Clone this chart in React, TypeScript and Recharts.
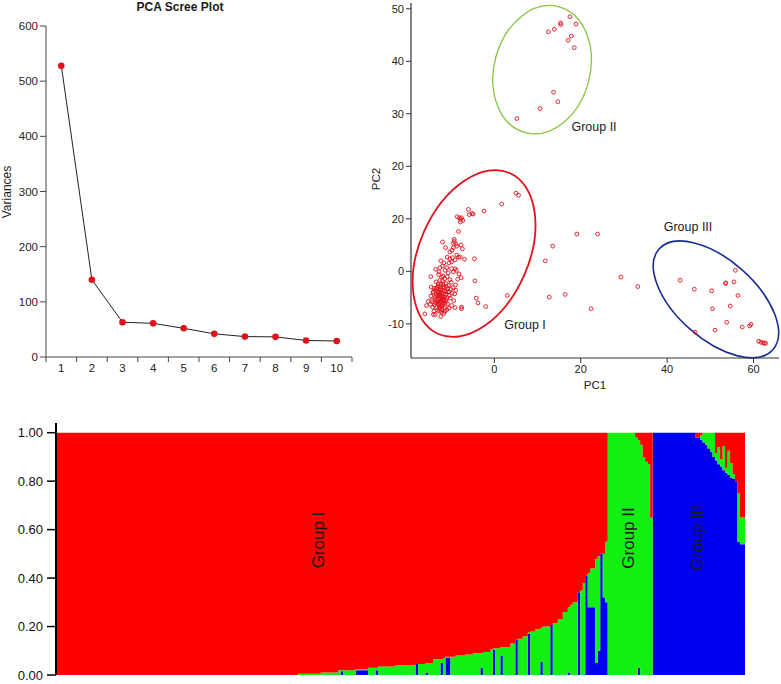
import React from "react";
import {
  Area,
  AreaChart,
  Line,
  LineChart,
  ReferenceArea,
  Scatter,
  ScatterChart,
  XAxis,
  YAxis,
} from "recharts";

const FONT = '"Liberation Sans", Arial, Helvetica, sans-serif';

// ---- scree plot
const screeComponents = [1, 2, 3, 4, 5, 6, 7, 8, 9, 10];
const screeVariances = [528, 140, 63, 61, 52, 42, 37, 36.5, 30, 29];
const screeYTicks = [0, 100, 200, 300, 400, 500, 600];
const screeBandEdges = [0.5, 1.5, 2.5, 3.5, 4.5, 5.5, 6.5, 7.5, 8.5, 9.5, 10.5];

// ---- PCA scatter
const scatterXTicks = [0, 20, 40, 60];
const scatterYTicks = [-10, 0, 10, 20, 30, 40, 50];
const scatterYTickLabels = ["-10", "0", "20", "20", "30", "40", "50"];

const groupIPoints: [number, number][] = [
  [5.0, 14.9], [5.6, 14.5], [1.7, 12.8], [-2.4, 11.5], [-6.0, 11.8], [-5.8, 10.8],
  [-5.2, 11.0], [-4.9, 10.9], [-8.6, 10.4], [-8.1, 10.2], [-7.8, 9.9], [-7.6, 10.2],
  [-7.3, 9.7], [-7.9, 9.4], [-8.3, 7.6], [-12.0, 5.6], [-9.3, 6.1], [-9.3, 5.7],
  [-9.5, 5.3], [-8.9, 5.2], [-8.7, 4.8], [-9.5, 4.5], [-11.3, 4.5], [-7.7, 5.0],
  [-7.4, 4.3], [-10.3, 3.7], [-9.8, 4.0], [-6.9, 2.3], [-4.6, 2.4], [-8.7, 3.1],
  [-8.3, 2.7], [-9.1, 2.2], [-7.9, 2.7], [-10.9, 2.7], [-10.3, 2.4], [-9.7, 2.6],
  [-10.5, 1.6], [-9.9, 1.8], [-12.4, 2.0], [-11.7, 1.6], [-13.6, 0.4], [-12.6, 0.7],
  [-12.0, 1.0], [-12.8, -0.1], [-11.4, 0.2], [-11.0, 0.7], [-10.7, -0.3], [-9.9, 0.5],
  [-9.5, -0.1], [-9.1, 0.5], [-14.7, -1.0], [-7.7, -1.2], [-4.5, -1.8], [3.0, -4.6],
  [-4.2, -5.1], [-3.8, -6.0], [-2.0, -6.7], [-7.6, -6.8], [-9.1, -6.9], [-7.6, -7.1],
  [-16.1, -8.1], [-15.7, -6.5], [-15.3, -5.7], [-14.1, -8.2], [-14.0, -7.6], [-14.3, -6.8],
  [-14.7, -4.7], [-14.5, -5.5], [-14.1, -3.9], [-13.7, -4.9], [-13.4, -3.3], [-13.0, -2.4],
  [-12.6, -1.7], [-12.2, -1.1],
];

const groupICore: [number, number][] = [
  [-14.2, -4.0], [-13.8, -3.6], [-13.5, -4.4], [-13.1, -3.9], [-12.8, -4.7], [-12.5, -3.5],
  [-12.2, -4.1], [-11.9, -4.8], [-11.6, -3.7], [-11.3, -4.4], [-11.0, -5.0], [-10.7, -3.9],
  [-10.4, -4.6], [-10.1, -3.4], [-13.6, -5.3], [-13.2, -5.8], [-12.9, -5.2], [-12.6, -6.0],
  [-12.3, -5.5], [-12.0, -6.3], [-11.7, -5.6], [-11.4, -6.1], [-11.1, -5.4], [-13.9, -6.4],
  [-13.4, -6.9], [-12.7, -7.1], [-12.1, -6.8], [-11.5, -7.0], [-14.4, -5.8], [-13.0, -2.8],
  [-12.4, -2.5], [-11.8, -2.9], [-11.2, -2.3], [-10.6, -2.7], [-10.0, -2.1], [-9.6, -3.1],
  [-9.8, -4.2], [-10.2, -5.1], [-9.4, -5.6], [-10.8, -6.2], [-13.3, -3.1], [-14.0, -3.2],
  [-12.0, -1.8], [-11.5, -1.4], [-10.9, -1.0], [-10.3, -1.6], [-12.7, -7.6], [-12.2, -7.8],
  [-13.1, -7.4], [-11.0, -7.3], [-9.9, -6.5], [-9.2, -4.3], [-8.9, -3.6], [-9.0, -2.6],
  [-12.9, -0.6], [-11.9, -0.9], [-13.5, -2.0], [-14.6, -3.0], [-14.8, -6.3], [-13.7, -8.2],
  [-12.4, -8.6], [-11.4, -7.6], [-10.5, -7.0], [-8.5, -1.5], [-8.2, -0.5], [-8.8, 0.2],
  [-11.7, -8.0], [-13.0, -4.2], [-12.7, -3.9], [-12.4, -4.6], [-12.1, -5.0], [-11.8, -4.3],
  [-12.9, -5.6], [-12.5, -5.0], [-12.2, -5.8], [-11.9, -5.3], [-12.6, -4.3], [-13.3, -4.7],
  [-12.0, -3.6], [-11.5, -4.9], [-11.2, -3.9], [-12.8, -6.4], [-12.3, -6.6], [-13.0, -6.2],
  [-11.8, -6.0], [-12.5, -3.0], [-11.6, -3.2], [-13.4, -5.6], [-12.9, -3.3], [-11.3, -5.7],
  [-12.7, -6.7], [-13.6, -6.0], [-12.1, -7.3], [-11.9, -2.4], [-11.1, -2.9], [-10.8, -3.3],
  [-10.5, -3.9],
];

const groupIIPoints: [number, number][] = [
  [17.5, 48.5], [18.9, 47.1], [15.3, 47.3], [15.4, 47.0], [12.5, 45.6], [13.9, 46.1],
  [17.8, 44.8], [17.1, 44.0], [18.5, 42.6], [13.7, 34.1], [14.7, 32.3], [10.6, 31.0],
  [5.2, 29.1],
];

const groupIIIPoints: [number, number][] = [
  [43.0, -1.7], [46.3, -3.4], [50.3, -3.7], [55.8, 0.2], [53.6, -2.2], [53.5, -2.3],
  [55.5, -2.0], [56.4, -4.6], [54.6, -6.6], [50.5, -7.1], [53.8, -9.7], [46.5, -11.6],
  [51.1, -11.2], [57.4, -10.6], [59.1, -10.4], [59.4, -10.1], [61.2, -13.3], [61.7, -13.5],
  [62.2, -13.6], [62.5, -13.7], [62.8, -13.7],
];

const betweenPoints: [number, number][] = [
  [11.8, 2.0], [13.5, 4.8], [19.1, 7.1], [23.9, 7.1], [12.7, -4.9], [16.4, -4.4],
  [22.4, -7.1], [29.3, -1.1], [33.2, -2.9],
];

const groupEllipses = [
  { cx: -4.7, cy: 3.4, rx: 12.65, ry: 16.76, angle: 23.9, color: "#e3101b", width: 1.8 },
  { cx: 11.05, cy: 38.4, rx: 11.1, ry: 12.4, angle: 15, color: "#86c540", width: 1.3 },
  { cx: 51.3, cy: -5.34, rx: 17.58, ry: 7.52, angle: 41.5, color: "#1a2d8f", width: 1.6 },
];

// ---- structure (admixture) plot, step breakpoints per individual index
const structStart = [
  0, 97, 106, 113, 114, 115, 120, 125, 128, 129, 136, 144, 145, 148, 149, 151, 154, 155,
  156, 158, 160, 164, 167, 170, 171, 174, 175, 176, 178, 179, 182, 184, 185, 187, 189, 190,
  192, 194, 195, 198, 199, 201, 203, 205, 206, 207, 209, 210, 211, 212, 213, 214, 216, 217,
  218, 219, 220, 221, 232, 233, 234, 235, 236, 237, 238, 239, 256, 258, 259, 260, 261, 262,
  263, 264, 265, 266, 267, 268, 269, 270, 271, 272, 273, 274, 276,
];
const structBlue = [
  0, 0, 0, 0, 0.015, 0, 0.02, 0, 0.02, 0, 0, 0.045, 0, 0.01, 0, 0, 0.05, 0,
  0.07, 0, 0, 0, 0, 0.03, 0, 0, 0.105, 0, 0.08, 0, 0, 0.145, 0, 0, 0.17, 0,
  0, 0.055, 0, 0.206, 0, 0, 0, 0.01, 0, 0, 0.34, 0, 0, 0.41, 0.28, 0.28, 0.05, 0.1,
  0.5, 0.32, 0.3, 0, 0, 0.03, 0, 0, 0, 0, 0, 1, 0.98, 0.97, 0.96, 0.95, 0.935, 0.92,
  0.9, 0.885, 0.87, 0.86, 0.845, 0.835, 0.825, 0.815, 0.81, 0.8, 0.55, 0.54, 0.54,
];
const structGreen = [
  0, 0.005, 0.01, 0.02, 0.005, 0.02, 0.005, 0.03, 0.01, 0.035, 0.04, 0, 0.045, 0.04, 0.05, 0.065, 0.015, 0.07,
  0.005, 0.075, 0.08, 0.085, 0.09, 0.06, 0.095, 0.105, 0.005, 0.11, 0.035, 0.115, 0.13, 0, 0.15, 0.16, 0.005, 0.18,
  0.19, 0.14, 0.2, 0, 0.215, 0.23, 0.26, 0.27, 0.29, 0.3, 0, 0.35, 0.38, 0, 0.14, 0.16, 0.43, 0.39,
  0, 0.18, 0.25, 1, 0.98, 0.94, 0.95, 0.9, 0.88, 0.87, 0.65, 0, 0, 0.02, 0.04, 0.05, 0.065, 0.08,
  0.1, 0.03, 0.07, 0.03, 0.1, 0.02, 0.1, 0.06, 0.02, 0, 0.2, 0.11, 0.11,
];
const structRed = [
  1, 0.995, 0.99, 0.98, 0.98, 0.98, 0.975, 0.97, 0.97, 0.965, 0.96, 0.955, 0.955, 0.95, 0.95, 0.935, 0.935, 0.93,
  0.925, 0.925, 0.92, 0.915, 0.91, 0.91, 0.905, 0.895, 0.89, 0.89, 0.885, 0.885, 0.87, 0.855, 0.85, 0.84, 0.825, 0.82,
  0.81, 0.805, 0.8, 0.794, 0.785, 0.77, 0.74, 0.72, 0.71, 0.7, 0.66, 0.65, 0.62, 0.59, 0.58, 0.56, 0.52, 0.51,
  0.5, 0.5, 0.45, 0, 0.02, 0.03, 0.05, 0.1, 0.12, 0.13, 0.35, 0, 0.02, 0.01, 0, 0, 0, 0,
  0, 0.085, 0.06, 0.11, 0.055, 0.145, 0.075, 0.125, 0.17, 0.2, 0.25, 0.35, 0.35,
];
const structYTicks = [0, 0.2, 0.4, 0.6, 0.8, 1];
const structYTickLabels = ["0.00", "0.20", "0.40", "0.60", "0.80", "1.00"];

const screeData = screeComponents.map((pc, i) => ({ pc, variance: screeVariances[i] }));
const scatterData = [
  ...groupIPoints,
  ...groupICore,
  ...groupIIPoints,
  ...groupIIIPoints,
  ...betweenPoints,
].map(([pc1, pc2]) => ({ pc1, pc2 }));
const structData = structStart.map((x, i) => ({
  x,
  blue: structBlue[i],
  green: structGreen[i],
  red: structRed[i],
}));

const SCATTER_X: [number, number] = [-19.3, 65.9];
const SCATTER_Y: [number, number] = [-16.5, 51.1];

function Note({
  x,
  y,
  size,
  rotate = 0,
  bold = false,
  children,
}: {
  x: number;
  y: number;
  size: number;
  rotate?: number;
  bold?: boolean;
  children: React.ReactNode;
}) {
  return (
    <div
      style={{
        position: "absolute",
        left: x,
        top: y,
        transform: `translate(-50%, -50%) rotate(${rotate}deg)`,
        fontSize: size,
        fontWeight: bold ? 700 : 400,
        lineHeight: 1,
        whiteSpace: "nowrap",
        color: "#1a1a1a",
      }}
    >
      {children}
    </div>
  );
}

function ScreeXTick(props: any) {
  const { x, y, payload } = props;
  const v = payload.value;
  if (screeBandEdges.includes(v)) {
    return <line x1={x} x2={x} y1={y - 7} y2={y - 2} stroke="#444" strokeWidth={1} />;
  }
  return (
    <text x={x} y={y} dy="0.71em" textAnchor="middle" fontSize={11.5} fill="#222">
      {v}
    </text>
  );
}

const ellipseShape = (e: (typeof groupEllipses)[number]) => (props: any) => {
  const { x, y, width, height } = props;
  const cx = x + width / 2;
  const cy = y + height / 2;
  return (
    <ellipse
      cx={cx}
      cy={cy}
      rx={Math.abs(width) / 2}
      ry={Math.abs(height) / 2}
      transform={`rotate(${e.angle} ${cx} ${cy})`}
      fill="none"
      stroke={e.color}
      strokeWidth={e.width}
    />
  );
};

export default function App() {
  return (
    <div
      style={{
        position: "relative",
        width: 781,
        height: 684,
        background: "#fff",
        fontFamily: FONT,
        overflow: "hidden",
      }}
    >
      <style>{"body{margin:0;}"}</style>

      {/* scree plot */}
      <div style={{ position: "absolute", left: 0, top: 0 }}>
        <LineChart
          width={360}
          height={380}
          data={screeData}
          margin={{ top: 26, right: 8, bottom: 3, left: 6 }}
        >
          <XAxis
            dataKey="pc"
            type="number"
            domain={[0.5, 10.5]}
            ticks={[...screeBandEdges, ...screeComponents]}
            interval={0}
            tick={<ScreeXTick />}
            tickLine={false}
            tickSize={5}
            tickMargin={2}
            height={20}
            axisLine={{ stroke: "#444", strokeWidth: 1 }}
          />
          <YAxis
            type="number"
            domain={[0, 600]}
            ticks={screeYTicks}
            interval={0}
            width={40}
            tickSize={6}
            tick={{ fontSize: 11.5, fill: "#222" }}
            tickLine={{ stroke: "#444" }}
            axisLine={{ stroke: "#444", strokeWidth: 1 }}
          />
          <Line
            dataKey="variance"
            type="linear"
            stroke="#222"
            strokeWidth={1}
            dot={{ r: 3.3, fill: "#e3101b", stroke: "none" }}
            activeDot={false}
            isAnimationActive={false}
          />
        </LineChart>
      </div>

      {/* PCA scatter */}
      <div style={{ position: "absolute", left: 360, top: 0 }}>
        <ScatterChart width={421} height={380} margin={{ top: 3, right: 2, bottom: 2, left: 6 }}>
          <XAxis
            dataKey="pc1"
            type="number"
            domain={SCATTER_X}
            ticks={scatterXTicks}
            interval={0}
            height={20}
            tickSize={5}
            tick={{ fontSize: 11, fill: "#222" }}
            tickLine={{ stroke: "#333" }}
            axisLine={{ stroke: "#333", strokeWidth: 1.2 }}
          />
          <XAxis
            xAxisId="top"
            orientation="top"
            type="number"
            domain={SCATTER_X}
            height={0}
            tick={false}
            tickLine={false}
            axisLine={{ stroke: "#333", strokeWidth: 1.2 }}
          />
          <YAxis
            dataKey="pc2"
            type="number"
            domain={SCATTER_Y}
            ticks={scatterYTicks}
            interval={0}
            width={45}
            tickSize={5}
            tickFormatter={(v: number) => scatterYTickLabels[scatterYTicks.indexOf(v)]}
            tick={{ fontSize: 11, fill: "#222" }}
            tickLine={{ stroke: "#333" }}
            axisLine={{ stroke: "#333", strokeWidth: 1.2 }}
          />
          <YAxis
            yAxisId="right"
            orientation="right"
            type="number"
            domain={SCATTER_Y}
            width={0}
            tick={false}
            tickLine={false}
            axisLine={{ stroke: "#333", strokeWidth: 1.2 }}
          />
          {groupEllipses.map((e, i) => (
            <ReferenceArea
              key={i}
              x1={e.cx - e.rx}
              x2={e.cx + e.rx}
              y1={e.cy - e.ry}
              y2={e.cy + e.ry}
              ifOverflow="visible"
              shape={ellipseShape(e)}
            />
          ))}
          <Scatter
            data={scatterData}
            isAnimationActive={false}
            shape={(p: any) => (
              <circle cx={p.cx} cy={p.cy} r={1.9} fill="none" stroke="#e3101b" strokeWidth={0.9} />
            )}
          />
        </ScatterChart>
      </div>

      {/* structure plot */}
      <div style={{ position: "absolute", left: 0, top: 400 }}>
        <AreaChart
          width={781}
          height={284}
          data={structData}
          margin={{ top: 23, right: 26, bottom: 9, left: 6 }}
        >
          <XAxis
            dataKey="x"
            type="number"
            domain={[0, 280]}
            height={0}
            tick={false}
            tickLine={false}
            axisLine={{ stroke: "#000", strokeWidth: 2 }}
          />
          <YAxis
            type="number"
            domain={[0, 1.04]}
            ticks={structYTicks}
            interval={0}
            width={50}
            tickSize={9}
            tickMargin={4}
            tickFormatter={(v: number) => structYTickLabels[structYTicks.indexOf(v)]}
            tick={{ fontSize: 13, fill: "#111" }}
            tickLine={{ stroke: "#000", strokeWidth: 1.5 }}
            axisLine={{ stroke: "#000", strokeWidth: 2 }}
          />
          <Area
            type="stepAfter"
            dataKey="blue"
            stackId="q"
            stroke="none"
            fill="#0000f5"
            fillOpacity={1}
            dot={false}
            activeDot={false}
            isAnimationActive={false}
          />
          <Area
            type="stepAfter"
            dataKey="green"
            stackId="q"
            stroke="none"
            fill="#12f012"
            fillOpacity={1}
            dot={false}
            activeDot={false}
            isAnimationActive={false}
          />
          <Area
            type="stepAfter"
            dataKey="red"
            stackId="q"
            stroke="none"
            fill="#fe0000"
            fillOpacity={1}
            dot={false}
            activeDot={false}
            isAnimationActive={false}
          />
        </AreaChart>
      </div>

      <Note x={180} y={7} size={12} bold>
        PCA Scree Plot
      </Note>
      <Note x={7} y={192} size={12} rotate={-90}>
        Variances
      </Note>
      <Note x={377} y={179} size={11.5} rotate={-90}>
        PC2
      </Note>
      <Note x={595} y={386} size={11.5}>
        PC1
      </Note>
      <Note x={594} y={127} size={12.5}>
        Group II
      </Note>
      <Note x={525} y={325} size={12.5}>
        Group I
      </Note>
      <Note x={688} y={227} size={12.5}>
        Group III
      </Note>
      <Note x={318} y={540} size={17} rotate={-90}>
        Group I
      </Note>
      <Note x={628} y={538} size={17} rotate={-90}>
        Group II
      </Note>
      <Note x={697} y={538} size={17} rotate={-90}>
        Group III
      </Note>
    </div>
  );
}
